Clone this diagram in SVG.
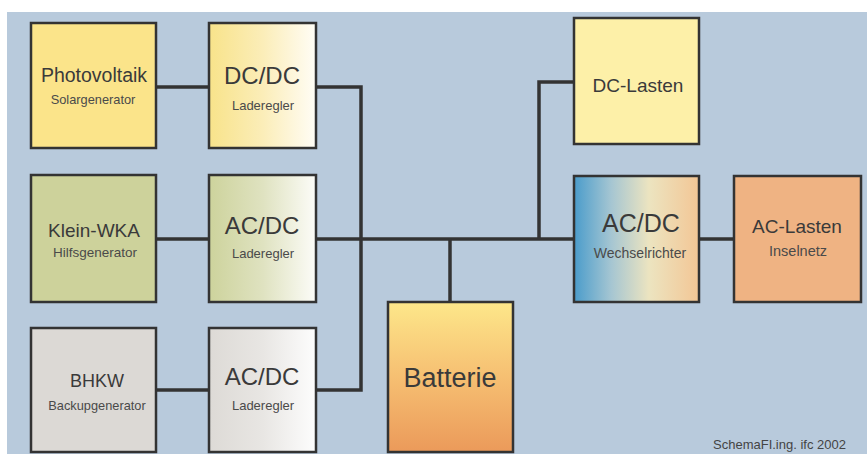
<svg xmlns="http://www.w3.org/2000/svg" width="867" height="454" viewBox="0 0 867 454">
<style>
.box{stroke:#333;stroke-width:2.5}
.t{font-family:"Liberation Sans",Arial,sans-serif;fill:#3a3a3a;text-anchor:middle}
.s{font-family:"Liberation Sans",Arial,sans-serif;fill:#4a4a4a;text-anchor:middle}
.con{stroke:#333;stroke-width:3.5;fill:none}
</style>
<defs>
<linearGradient id="gYel" x1="0" y1="0" x2="1" y2="0"><stop offset="0" stop-color="#f8e38a"/><stop offset="0.5" stop-color="#fbedb8"/><stop offset="1" stop-color="#fffdf6"/></linearGradient>
<linearGradient id="gGrn" x1="0" y1="0" x2="1" y2="0"><stop offset="0" stop-color="#cdd39c"/><stop offset="0.5" stop-color="#dfe2c0"/><stop offset="1" stop-color="#fcfcf8"/></linearGradient>
<linearGradient id="gGry" x1="0" y1="0" x2="1" y2="0"><stop offset="0" stop-color="#dddad6"/><stop offset="0.5" stop-color="#e8e6e3"/><stop offset="1" stop-color="#fdfdfd"/></linearGradient>
<linearGradient id="gInv" x1="0" y1="0" x2="1" y2="0"><stop offset="0" stop-color="#4a9ccb"/><stop offset="0.3" stop-color="#a6c6d2"/><stop offset="0.6" stop-color="#ece4c0"/><stop offset="1" stop-color="#f3c695"/></linearGradient>
<linearGradient id="gBat" x1="0" y1="0" x2="0" y2="1"><stop offset="0" stop-color="#fde78a"/><stop offset="0.5" stop-color="#f6bf72"/><stop offset="1" stop-color="#eb9a5a"/></linearGradient>
</defs>
<rect x="0" y="0" width="867" height="454" fill="#ffffff"/>
<rect x="7" y="12" width="860" height="442" fill="#b8cadc"/>

<g id="connectors">
<path class="con" d="M156 87 H209"/>
<path class="con" d="M156 239 H209"/>
<path class="con" d="M156 390 H209"/>
<path class="con" d="M316 87 H361 V390 H316"/>
<path class="con" d="M316 239 H575"/>
<path class="con" d="M450 239 V302"/>
<path class="con" d="M539 239 V82 H575"/>
<path class="con" d="M699 239 H734"/>
</g>

<g id="photovoltaik">
<rect class="box" x="31" y="23" width="125" height="125" fill="#fbe48a"/>
<text class="t" x="94" y="82" font-size="19.5">Photovoltaik</text>
<text class="s" x="93" y="104" font-size="12.8">Solargenerator</text>
</g>
<g id="dcdc">
<rect class="box" x="209" y="23" width="107" height="125" fill="url(#gYel)"/>
<text class="t" x="262" y="84" font-size="24">DC/DC</text>
<text class="s" x="263" y="110" font-size="13">Laderegler</text>
</g>
<g id="kleinwka">
<rect class="box" x="31" y="175" width="125" height="127" fill="#cdd29b"/>
<text class="t" x="94" y="237" font-size="19">Klein-WKA</text>
<text class="s" x="95" y="257" font-size="13.5">Hilfsgenerator</text>
</g>
<g id="acdc1">
<rect class="box" x="209" y="175" width="107" height="127" fill="url(#gGrn)"/>
<text class="t" x="262" y="234" font-size="24">AC/DC</text>
<text class="s" x="263" y="258" font-size="13">Laderegler</text>
</g>
<g id="bhkw">
<rect class="box" x="31" y="328" width="125" height="124" fill="#dcd9d5"/>
<text class="t" x="97" y="387" font-size="18">BHKW</text>
<text class="s" x="97" y="410" font-size="12.8">Backupgenerator</text>
</g>
<g id="acdc2">
<rect class="box" x="209" y="328" width="107" height="124" fill="url(#gGry)"/>
<text class="t" x="262" y="385" font-size="24">AC/DC</text>
<text class="s" x="263" y="410" font-size="13">Laderegler</text>
</g>
<g id="batterie">
<rect class="box" x="388" y="302" width="125" height="150" fill="url(#gBat)"/>
<text class="t" x="450" y="387" font-size="27">Batterie</text>
</g>
<g id="dclasten">
<rect class="box" x="574" y="18" width="125" height="126" fill="#fdf0a8"/>
<text class="t" x="638" y="92" font-size="19">DC-Lasten</text>
</g>
<g id="wechselrichter">
<rect class="box" x="574" y="176" width="125" height="126" fill="url(#gInv)"/>
<text class="t" x="641" y="232" font-size="25">AC/DC</text>
<text class="s" x="640" y="258" font-size="14">Wechselrichter</text>
</g>
<g id="aclasten">
<rect class="box" x="734" y="176" width="127" height="126" fill="#efb383"/>
<text class="t" x="797" y="233" font-size="19">AC-Lasten</text>
<text class="s" x="798" y="256" font-size="14.5">Inselnetz</text>
</g>
<text x="713" y="449" font-family="Liberation Sans,Arial,sans-serif" font-size="13" fill="#444">SchemaFI.ing. ifc 2002</text>
</svg>
